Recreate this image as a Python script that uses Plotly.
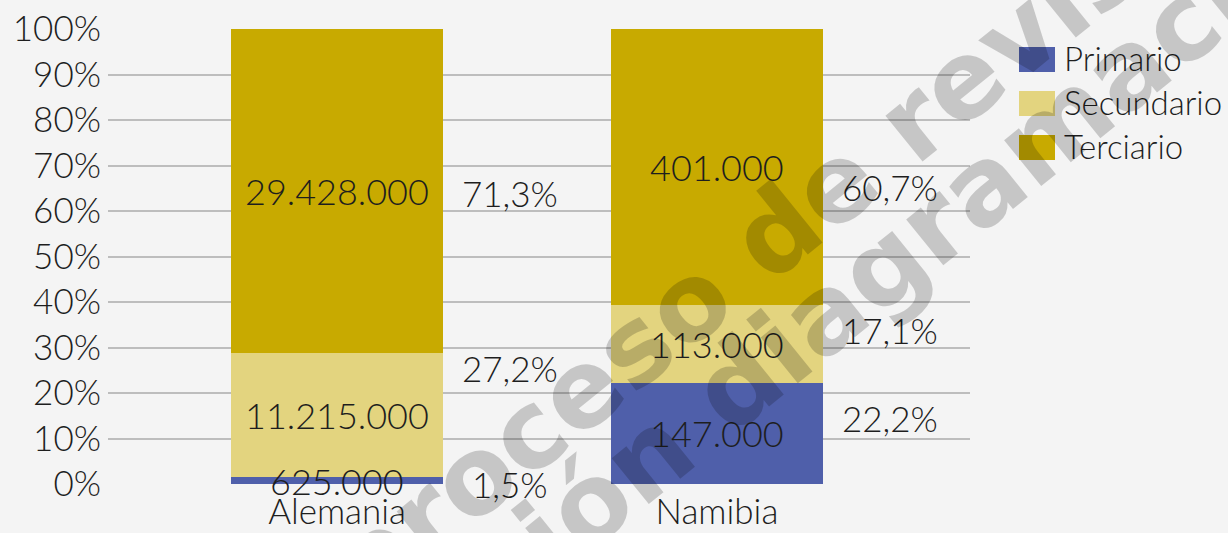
import plotly.graph_objects as go

categories = ["Alemania", "Namibia"]
series_names = ["Primario", "Secundario", "Terciario"]
primario = [625000, 147000]
secundario = [11215000, 113000]
terciario = [29428000, 401000]
y_ticks = [0, 10, 20, 30, 40, 50, 60, 70, 80, 90, 100]
y_tick_labels = ["0%", "10%", "20%", "30%", "40%", "50%", "60%", "70%", "80%", "90%", "100%"]
watermark_lines = ["proceso de revisión", "versión diagramación"]

colors = ["#4f5faa", "#e3d47f", "#c8aa00"]
FONT = "Lato Light, Lato"
TXT = "#1e1e1e"
FS = 35

def fmt_int(v):
    return f"{v:,}".replace(",", ".")

def fmt_pct(v):
    return f"{v:.1f}".replace(".", ",") + "%"

series = [primario, secundario, terciario]
totals = [sum(s[i] for s in series) for i in range(len(categories))]

fig = go.Figure()
for name, vals, col in zip(series_names, series, colors):
    fig.add_trace(go.Bar(
        x=categories, y=vals, name=name,
        marker=dict(color=col, line=dict(width=0)),
        width=0.558,
        showlegend=False,
        hoverinfo="skip",
    ))

# value labels centred in each segment (drawn above all bars)
for ci, cat in enumerate(categories):
    base = 0.0
    for si, vals in enumerate(series):
        pct = vals[ci] / totals[ci] * 100
        fig.add_annotation(
            x=cat, y=base + pct / 2, xref="x", yref="y",
            text=fmt_int(vals[ci]), showarrow=False,
            font=dict(family=FONT, size=FS + 1, color=TXT, weight=300),
        )
        base += pct

# percentage labels beside each bar (label y positions as in the reference)
label_y = {
    "Alemania": [0.0, 25.5, 64.0],
    "Namibia": [14.5, 33.8, 65.3],
}
for ci, cat in enumerate(categories):
    for si, vals in enumerate(series):
        pct = vals[ci] / totals[ci] * 100
        fig.add_annotation(
            x=cat, y=label_y[cat][si], xref="x", yref="y",
            xshift=173, text=fmt_pct(pct), showarrow=False,
            font=dict(family=FONT, size=FS, color=TXT, weight=300),
        )

# manual legend
PW = 862
PH = 455
leg_centers_px = [59.5, 103.5, 147.5]
for name, col, yc in zip(series_names, colors, leg_centers_px):
    yy = (484 - yc) / PH
    fig.add_shape(type="rect", xref="paper", yref="paper",
                  x0=(1019 - 108) / PW, x1=(1055 - 108) / PW,
                  y0=yy - 12.5 / PH, y1=yy + 12.5 / PH,
                  fillcolor=col, line=dict(width=0))
    fig.add_annotation(x=(1062 - 108) / PW, y=yy + 2 / PH, xref="paper", yref="paper",
                       text=name, showarrow=False, xanchor="left", yanchor="middle",
                       font=dict(family=FONT, size=33, color=TXT, weight=300))

# watermark
wm_centers_px = [(806, 207), (839, 301)]
for txt, (px, py) in zip(watermark_lines, wm_centers_px):
    fig.add_annotation(x=(px - 108) / PW, y=(484 - py) / PH, xref="paper", yref="paper",
                       text=txt, showarrow=False, textangle=-39,
                       xanchor="center", yanchor="middle",
                       font=dict(family="DejaVu Sans", size=108, color="rgba(0,0,0,0.19)",
                                 weight="bold"))

fig.update_layout(
    barmode="stack",
    barnorm="percent",
    width=1228, height=533,
    margin=dict(l=108, r=258, t=29, b=49),
    paper_bgcolor="#f4f4f4",
    plot_bgcolor="#f4f4f4",
    font=dict(family=FONT, size=FS, color=TXT, weight=300),
    xaxis=dict(type="category", range=[-0.603, 1.666], showgrid=False,
               zeroline=False, showline=False, ticks="", automargin=False,
               ticklabelstandoff=4,
               tickfont=dict(family=FONT, size=FS, color=TXT, weight=300)),
    yaxis=dict(range=[0, 100], tickvals=y_ticks, ticktext=y_tick_labels,
               showgrid=True, gridcolor="#bdbdbd", gridwidth=2,
               zeroline=False, showline=False, ticks="", automargin=False,
               ticklabelstandoff=6,
               tickfont=dict(family=FONT, size=FS, color=TXT, weight=300)),
)

fig.write_html("out.html", config={"displayModeBar": False},
               post_script="document.body.style.margin='0';document.body.style.background='#f4f4f4';")
